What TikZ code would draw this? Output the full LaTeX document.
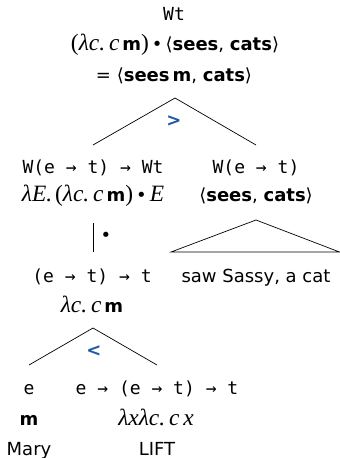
\documentclass[tikz,border=0pt]{standalone}
\usepackage{fontspec}
\setmainfont{DejaVu Sans}
\setmonofont{DejaVu Sans Mono}
\newfontfamily\mrm{Liberation Serif}[Scale=1.3]
\newfontfamily\symf{DejaVu Sans}
\definecolor{opblue}{RGB}{30,90,165}
\tikzset{
  txt/.style={anchor=base, inner sep=0pt, font=\fontsize{18}{21}\selectfont},
  ty/.style={anchor=base, inner sep=0pt, font=\fontsize{18}{21}\selectfont\ttfamily},
  op/.style={anchor=base, inner sep=0pt, text=opblue, font=\fontsize{18}{21}\selectfont\bfseries},
  br/.style={line width=0.7pt},
}
\newcommand{\bsf}[1]{\textbf{#1}}
\newcommand{\mi}[1]{{\mrm\itshape #1}}
\newcommand{\lp}{{\mrm(}}
\newcommand{\rp}{{\mrm)}}
\newcommand{\la}{{\symf ⟨}}
\newcommand{\ra}{{\symf ⟩}}
\newcommand{\bul}{\,{\symf •}\,}
\begin{document}
\begin{tikzpicture}[x=1pt,y=-1pt]
\useasboundingbox (0,0) rectangle (340,458);
% root
\node[ty]  (r1) at (174,20) {Wt};
\node[txt] (r2) at (175,50) {\lp\mi{λc.\,c}\,\bsf{m}\rp\bul\la\bsf{sees}, \bsf{cats}\ra};
\node[txt] (r3) at (174,81) {= \la\bsf{sees}\,\bsf{m}, \bsf{cats}\ra};
% top binary branch
\coordinate (a1) at (175,98);
\coordinate (l1) at (93,145);
\coordinate (rr1) at (256,145);
\draw[br] (l1) -- (a1) -- (rr1);
\node[op] (g1) at (174,126) {>};
% left daughter
\node[ty]  (L1) at (93,173) {W(e → t) → Wt};
\node[txt] (L2) at (93,201) {\mi{λE.}\,\lp\mi{λc.\,c}\,\bsf{m}\rp\bul\mi{E}};
% right daughter
\node[ty]  (R1) at (256,173) {W(e → t)};
\node[txt] (R2) at (256,201) {\la\bsf{sees}, \bsf{cats}\ra};
% unary
\coordinate (u1) at (93,223);
\coordinate (u2) at (93,252);
\draw[br] (u1) -- (u2);
\node[txt] (dot) at (106,241) {{\symf •}};
% right triangle
\coordinate (ta) at (256,220);
\coordinate (tl) at (171,252);
\coordinate (tr) at (339.5,252);
\draw[br, line join=miter] (ta) -- (tl) -- (tr) -- cycle;
\node[txt] (S) at (256,282) {saw Sassy, a cat};
% mid node
\node[ty]  (M1) at (92,282) {(e → t) → t};
\node[txt] (M2) at (92,312) {\mi{λc.\,c}\,\bsf{m}};
% lower branch
\coordinate (a2) at (93,328);
\coordinate (l2) at (29,365);
\coordinate (rr2) at (157,365);
\draw[br] (l2) -- (a2) -- (rr2);
\node[op] (g2) at (94,356) {<};
% leaves
\node[ty]  (E1) at (29,394) {e};
\node[txt] (E2) at (29,425) {\bsf{m}};
\node[txt] (E3) at (29,455) {Mary};
\node[ty]  (F1) at (157,394) {e → (e → t) → t};
\node[txt] (F2) at (156,425) {\mi{λxλc.\,c\,x}};
\node[txt] (F3) at (157,455) {LIFT};
\end{tikzpicture}
\end{document}
